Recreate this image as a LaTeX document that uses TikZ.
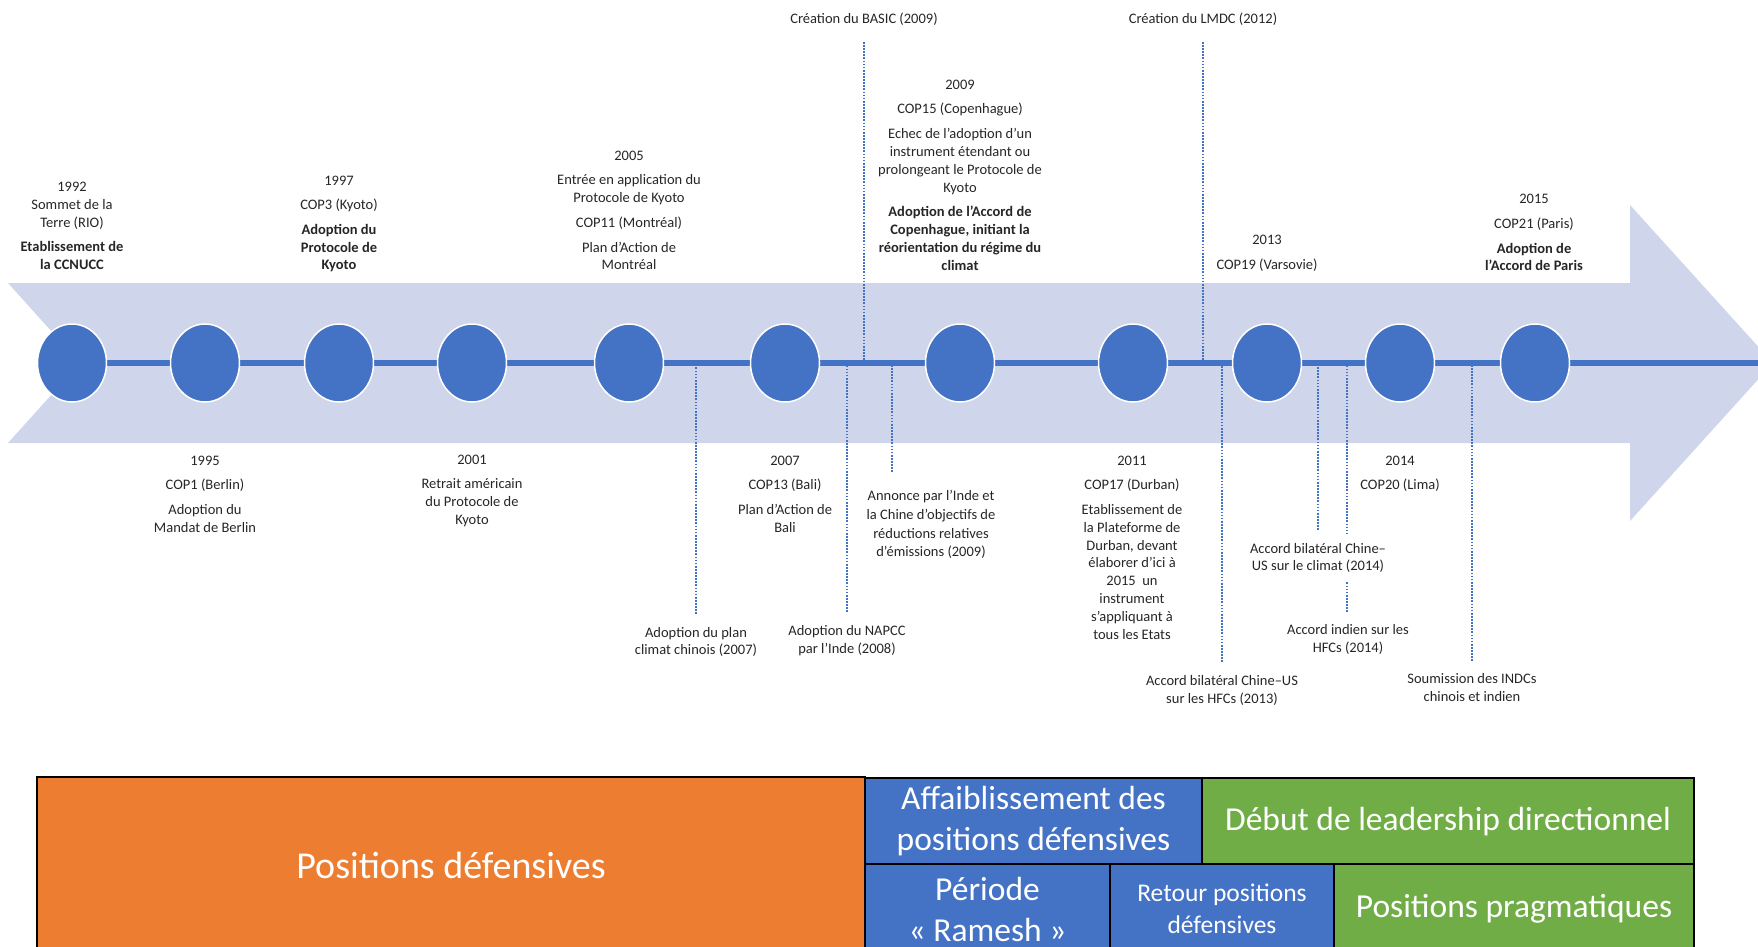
\documentclass[tikz,border=0pt]{standalone}
\usepackage{fontspec}
\setmainfont{Carlito}
\usetikzlibrary{shapes.geometric}
\definecolor{cblue}{HTML}{4472C4}
\definecolor{cband}{HTML}{CFD5EA}
\definecolor{corange}{HTML}{ED7D31}
\definecolor{cgreen}{HTML}{70AD47}
\definecolor{ctext}{HTML}{262626}
\begin{document}
\begin{tikzpicture}[x=1pt,y=-1pt,
  lbl/.style={align=center,font=\fontsize{14.5}{17.8}\selectfont,inner sep=0pt,text=ctext},
  dotline/.style={cblue,line width=1.7pt,dash pattern=on 1.7pt off 1.4pt},
  ev/.style={ellipse,fill=cblue,draw=white,line width=1.5pt,minimum width=69pt,minimum height=78pt,inner sep=0pt},
  phase/.style={draw=black,line width=1.7pt,text=white,align=center,inner sep=0pt}]
\clip (0,0) rectangle (1758,947);
% band arrow
\fill[cband] (8,283) -- (1630,283) -- (1630,205) -- (1773,363) -- (1630,521) -- (1630,443) -- (8,443) -- (80,363) -- cycle;
\coordinate (axisL) at (72,363);
\coordinate (axisR) at (1758,363);
% dotted connectors
\coordinate (dBASIC) at (864,42);
\coordinate (dLMDC) at (1203,42);
\coordinate (dPlan) at (696,614);
\coordinate (dNAPCC) at (847,612);
\coordinate (dAnnonce) at (892,472);
\coordinate (dHFC13) at (1222,662);
\coordinate (dBilat) at (1318,530);
\coordinate (dIndien) at (1347,612);
\coordinate (dINDC) at (1472,661);
\foreach \d in {dBASIC,dLMDC,dPlan,dNAPCC,dAnnonce,dHFC13,dBilat,dIndien,dINDC}
  \draw[dotline] (\d) -- (\d |- axisL);
% axis
\draw[cblue,line width=6.5pt] (axisL) -- (axisR);
% events
\node[ev] (c1992) at (72,363) {};
\node[ev] (c1995) at (205,363) {};
\node[ev] (c1997) at (339,363) {};
\node[ev] (c2001) at (472,363) {};
\node[ev] (c2005) at (629,363) {};
\node[ev] (c2007) at (785,363) {};
\node[ev] (c2009) at (960,363) {};
\node[ev] (c2011) at (1133,363) {};
\node[ev] (c2013) at (1267,363) {};
\node[ev] (c2014) at (1400,363) {};
\node[ev] (c2015) at (1535,363) {};
% top labels
\node[lbl] (l1992) at (72,226) {1992\\Sommet de la\\Terre (RIO)\\[6.5pt]\textbf{Etablissement de}\\\textbf{la CCNUCC}};
\node[lbl] (l1997) at (339,224) {1997\\[6.5pt]COP3 (Kyoto)\\[7pt]\textbf{Adoption du}\\\textbf{Protocole de}\\\textbf{Kyoto}};
\node[lbl] (l2005) at (629,210.5) {2005\\[6.5pt]Entrée en application du\\Protocole de Kyoto\\[7pt]COP11 (Montréal)\\[7pt]Plan d’Action de\\Montréal};
\node[lbl] (l2009) at (960,175) {2009\\[7pt]COP15 (Copenhague)\\[7pt]Echec de l’adoption d’un\\instrument étendant ou\\prolongeant le Protocole de\\Kyoto\\[7pt]\textbf{Adoption de l’Accord de}\\\textbf{Copenhague, initiant la}\\\textbf{réorientation du régime du}\\\textbf{climat}};
\node[lbl] (l2013) at (1267,253.5) {2013\\[7pt]COP19 (Varsovie)};
\node[lbl] (l2015) at (1534,232.5) {2015\\[7pt]COP21 (Paris)\\[7pt]\textbf{Adoption de}\\\textbf{l’Accord de Paris}};
\node[lbl] (lBASIC) at (864,19) {Création du BASIC (2009)};
\node[lbl] (lLMDC) at (1203,19) {Création du LMDC (2012)};
% bottom labels
\node[lbl] (l1995) at (205,494) {1995\\[6.5pt]COP1 (Berlin)\\[7pt]Adoption du\\Mandat de Berlin};
\node[lbl] (l2001) at (472,491) {2001\\[6.5pt]Retrait américain\\du Protocole de\\Kyoto};
\node[lbl] (l2007) at (785,494) {2007\\[6.5pt]COP13 (Bali)\\[7pt]Plan d’Action de\\Bali};
\node[lbl] (l2011) at (1132,547.5) {2011\\[6.5pt]COP17 (Durban)\\[7pt]Etablissement de\\la Plateforme de\\Durban, devant\\élaborer d’ici à\\2015~~un\\instrument\\s’appliquant à\\tous les Etats};
\node[lbl] (l2014) at (1400,473.5) {2014\\[6.5pt]COP20 (Lima)};
\node[lbl,font=\fontsize{14.5}{18.8}\selectfont] (lAnnonce) at (931,524.5) {Annonce par l’Inde et\\la Chine d’objectifs de\\réductions relatives\\d’émissions (2009)};
\node[lbl] (lPlan) at (696,642) {Adoption du plan\\climat chinois (2007)};
\node[lbl] (lNAPCC) at (847,640.5) {Adoption du NAPCC\\par l’Inde (2008)};
\node[lbl,fill=white,inner ysep=9pt,inner xsep=2pt] (lBilat) at (1318,558) {Accord bilatéral Chine–\\US sur le climat (2014)};
\node[lbl] (lIndien) at (1348,639.5) {Accord indien sur les\\HFCs (2014)};
\node[lbl] (lHFC13) at (1222,690.5) {Accord bilatéral Chine–US\\sur les HFCs (2013)};
\node[lbl] (lINDC) at (1472,687.5) {Soumission des INDCs\\chinois et indien};
% phases
\node[phase,fill=corange,minimum width=828pt,minimum height=177pt,font=\fontsize{38}{46}\selectfont] (pDef) at (451,865.5) {Positions défensives};
\node[phase,fill=cblue,minimum width=337pt,minimum height=87pt,font=\fontsize{33.5}{41}\selectfont] (pAff) at (1033.5,821.5) {Affaiblissement des\\positions défensives};
\node[phase,fill=cgreen,minimum width=492pt,minimum height=87pt,font=\fontsize{33.5}{41}\selectfont] (pDeb) at (1448,821.5) {Début de leadership directionnel};
\node[phase,fill=cblue,minimum width=245pt,minimum height=90pt,font=\fontsize{33.5}{41}\selectfont] (pRam) at (987.5,909) {Période\\« Ramesh »};
\node[phase,fill=cblue,minimum width=224pt,minimum height=90pt,font=\fontsize{25.5}{32.5}\selectfont] (pRet) at (1222,909) {Retour positions\\défensives};
\node[phase,fill=cgreen,minimum width=360pt,minimum height=90pt,font=\fontsize{33.5}{41}\selectfont] (pPrag) at (1514,909) {Positions pragmatiques};
\end{tikzpicture}
\end{document}
